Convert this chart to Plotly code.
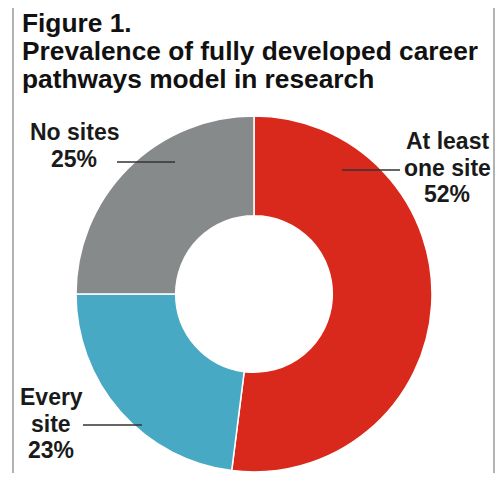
import plotly.graph_objects as go

categories = ["At least one site", "Every site", "No sites"]
values = [52, 23, 25]
label_lines = [["At least", "one site", "52%"], ["Every", "site", "23%"], ["No sites", "25%"]]
colors = ["#D9291C", "#48A9C5", "#878A8B"]
title_lines = ["Figure 1.", "Prevalence of fully developed career", "pathways model in research"]

# page has an 8px body margin, so the figure is drawn at offset (8, 8)
OFF = 8
W, H = 488, 465
cx, cy, R = 254, 294, 178

def px(x):
    return (x - OFF) / W

def py(y):
    return 1 - (y - OFF) / H

fig = go.Figure(go.Pie(
    labels=categories, values=values, sort=False, direction="clockwise", rotation=0,
    hole=0.44, textinfo="none", hoverinfo="label+percent",
    marker=dict(colors=colors, line=dict(color="white", width=1.5)),
    domain=dict(x=[px(cx - R), px(cx + R)], y=[py(cy + R), py(cy - R)]),
    showlegend=False,
))

font_fam = "Liberation Sans, Arial, sans-serif"
anns = []
# title lines (cap centers)
for t, y in zip(title_lines, [23, 50.5, 78.5]):
    anns.append(dict(x=px(21), y=py(y), xref="paper", yref="paper", xanchor="left", yanchor="middle",
                     text="<b>" + t + "</b>", showarrow=False, align="left", borderpad=0,
                     font=dict(family=font_fam, size=26.3, color="#111")))
# slice labels
label_pos = [(447, [141, 167.5, 194]), (51, [397, 424, 450]), (74, [132, 159])]
for lines, (x, ys) in zip(label_lines, label_pos):
    for t, y in zip(lines, ys):
        anns.append(dict(x=px(x), y=py(y), xref="paper", yref="paper", xanchor="center", yanchor="middle",
                         text="<b>" + t + "</b>", showarrow=False, align="center", borderpad=0,
                         font=dict(family=font_fam, size=23, color="#1a1a1a")))

shapes = [
    dict(type="rect", xref="paper", yref="paper", x0=px(13), x1=px(494), y0=-0.1, y1=py(2.5),
         line=dict(color="#9A9A9A", width=1.5), fillcolor="rgba(0,0,0,0)"),
    dict(type="line", xref="paper", yref="paper", x0=px(342), x1=px(400), y0=py(170), y1=py(170),
         line=dict(color="#333", width=1.3)),
    dict(type="line", xref="paper", yref="paper", x0=px(117), x1=px(175), y0=py(162), y1=py(162),
         line=dict(color="#333", width=1.3)),
    dict(type="line", xref="paper", yref="paper", x0=px(83), x1=px(142), y0=py(425), y1=py(425),
         line=dict(color="#333", width=1.3)),
]

fig.update_layout(width=W, height=H, margin=dict(l=0, r=0, t=0, b=0),
                  paper_bgcolor="white", plot_bgcolor="white",
                  annotations=anns, shapes=shapes)
fig.write_html("out.html")
